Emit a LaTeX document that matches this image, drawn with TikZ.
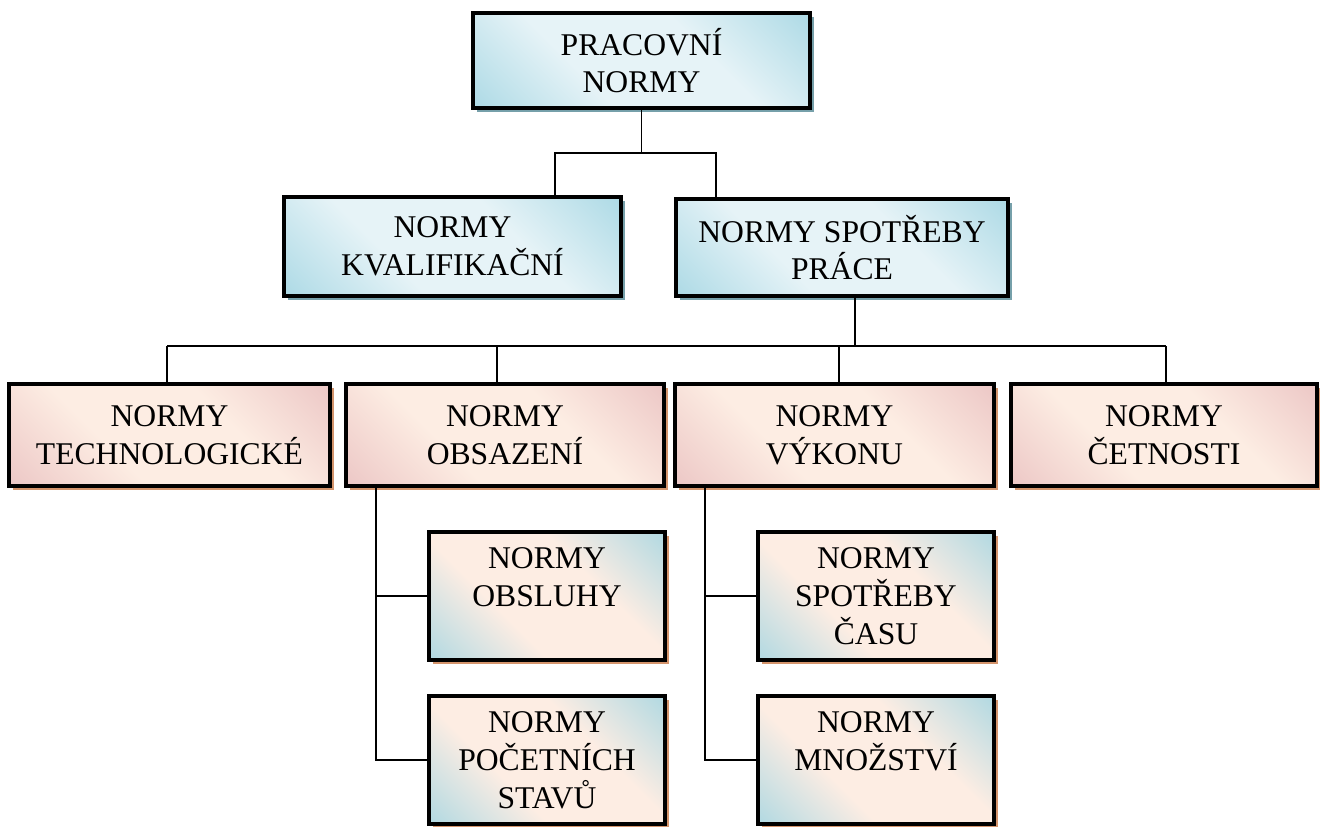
\documentclass[tikz,border=0pt]{standalone}
\usepackage{fontspec}
\setmainfont{Liberation Serif}
\usetikzlibrary{shadows}

\definecolor{bluec}{RGB}{162,213,226}
\definecolor{bluel}{RGB}{230,243,247}
\definecolor{pinkc}{RGB}{233,192,192}
\definecolor{creamc}{RGB}{253,237,227}
\definecolor{bluesh}{RGB}{118,160,170}
\definecolor{pinksh}{RGB}{212,148,108}

\pgfdeclarehorizontalshading{bluemid}{100bp}{color(0bp)=(bluec); color(10bp)=(bluec); color(38bp)=(bluel); color(62bp)=(bluel); color(90bp)=(bluec); color(100bp)=(bluec)}
\pgfdeclarehorizontalshading{pinkmid}{100bp}{color(0bp)=(pinkc); color(10bp)=(pinkc); color(38bp)=(creamc); color(62bp)=(creamc); color(90bp)=(pinkc); color(100bp)=(pinkc)}
\pgfdeclarehorizontalshading{mixmid}{100bp}{color(0bp)=(bluec); color(10bp)=(bluec); color(38bp)=(creamc); color(62bp)=(creamc); color(90bp)=(bluec); color(100bp)=(bluec)}

\tikzset{
  box/.style={draw, line width=2pt, align=center, inner sep=0pt,
    font=\fontsize{18}{21.5}\selectfont, shade, shading angle=45},
  bluebox/.style={box, shading=bluemid,
    drop shadow={shadow xshift=0.08cm, shadow yshift=-0.08cm, fill=bluesh, opacity=1}},
  pinkbox/.style={box, shading=pinkmid, minimum height=2.04cm,
    drop shadow={shadow xshift=0.08cm, shadow yshift=-0.08cm, fill=pinksh, opacity=1}},
  mixbox/.style={box, shading=mixmid, minimum width=4.72cm, minimum height=2.56cm,
    drop shadow={shadow xshift=0.08cm, shadow yshift=-0.08cm, fill=pinksh, opacity=1}},
  conn/.style={line width=1.1pt}
}

\begin{document}
\begin{tikzpicture}[x=0.02cm, y=-0.02cm]
  \useasboundingbox (0,0) rectangle (1320,826);

  % top levels
  \node[bluebox, minimum width=6.74cm, minimum height=1.9cm] (prac) at (641.5,60.5) {PRACOVNÍ\\NORMY};
  \node[bluebox, minimum width=6.74cm, minimum height=1.98cm] (kval) at (452.5,246.5) {NORMY\\KVALIFIKAČNÍ};
  \node[bluebox, minimum width=6.64cm, minimum height=1.94cm] (sprace) at (842,247.5) {NORMY SPOTŘEBY\\PRÁCE};

  % third level
  \node[pinkbox, minimum width=6.42cm] (tech) at (169.5,435) {NORMY\\TECHNOLOGICKÉ};
  \node[pinkbox, minimum width=6.36cm] (obs) at (505,435) {NORMY\\OBSAZENÍ};
  \node[pinkbox, minimum width=6.38cm] (vyk) at (834.5,435) {NORMY\\VÝKONU};
  \node[pinkbox, minimum width=6.12cm] (cet) at (1164,435) {NORMY\\ČETNOSTI};

  % bottom
  \node[mixbox] (obsl) at (547,596) {NORMY\\OBSLUHY\\\phantom{X}};
  \node[mixbox] (poc) at (547,760) {NORMY\\POČETNÍCH\\STAVŮ};
  \node[mixbox] (casu) at (876,596) {NORMY\\SPOTŘEBY\\ČASU};
  \node[mixbox] (mnoz) at (876,760) {NORMY\\MNOŽSTVÍ\\\phantom{X}};

  % connectors
  \coordinate (k1) at (555,153);
  \coordinate (k2) at (716,153);
  \draw[conn] (prac.south) -- (prac.south |- k1);
  \draw[conn] (k1 |- kval.north) -- (k1) -- (k2) -- (k2 |- sprace.north);

  \coordinate (h) at (855,346);
  \draw[conn] (h |- sprace.south) -- (h);
  \coordinate (hl) at (167,346);
  \coordinate (hr) at (1166,346);
  \draw[conn] (hl) -- (hr);
  \foreach \n/\x in {tech/167, obs/497, vyk/839, cet/1166} {
    \coordinate (t\n) at (\x,346);
    \draw[conn] (t\n) -- (t\n |- \n.north);
  }

  \coordinate (ol) at (376,0);
  \draw[conn] (ol |- obs.south) |- (obsl.west);
  \draw[conn] (ol |- obs.south) |- (poc.west);
  \coordinate (vl) at (705,0);
  \draw[conn] (vl |- vyk.south) |- (casu.west);
  \draw[conn] (vl |- vyk.south) |- (mnoz.west);
\end{tikzpicture}
\end{document}
